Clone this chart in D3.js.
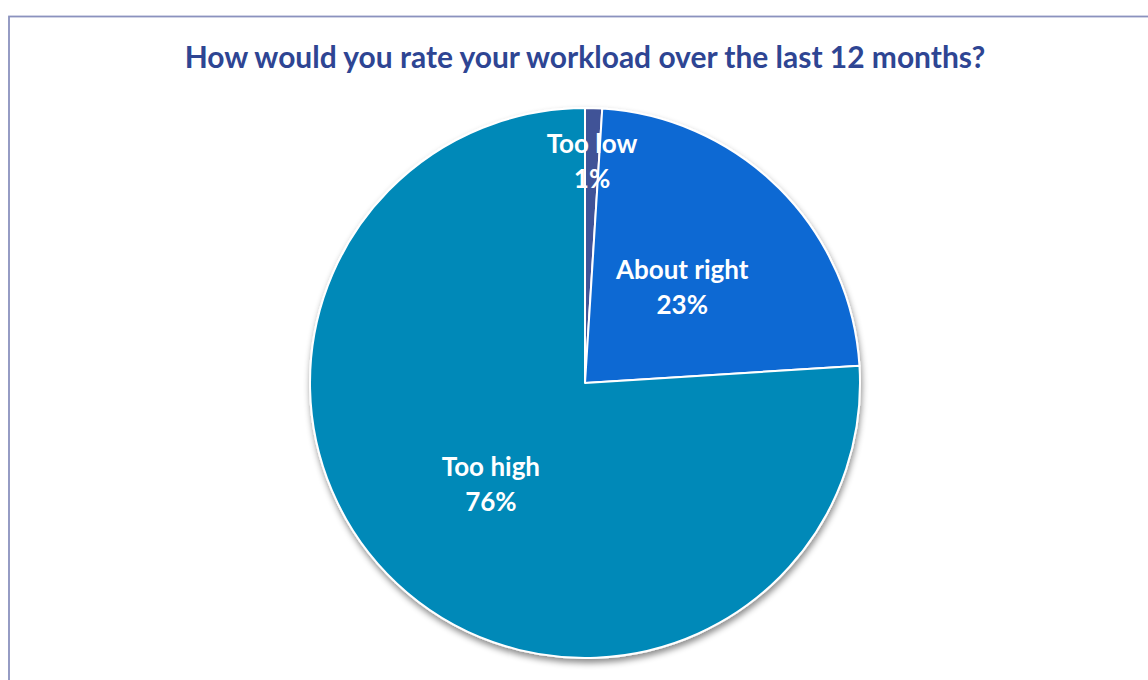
<!DOCTYPE html>
<html>
<head>
<meta charset="utf-8">
<script src="https://cdn.jsdelivr.net/npm/d3@7"></script>
<style>
  html, body { margin: 0; padding: 0; background: #ffffff; }
  svg { display: block; }
</style>
</head>
<body>
<svg id="chart" width="1148" height="680"></svg>
<script>
// Survey responses: workload rating over the last 12 months
const categories = ["Too low", "About right", "Too high"];
const shares = [1, 23, 76];
const sliceColors = ["#3F5297", "#0F69D3", "#0089B8"];
const chartTitle = "How would you rate your workload over the last 12 months?";

const width = 1148, height = 680;
const cx = 585, cy = 383, radius = 275;

const svg = d3.select("#chart");

// Soft shadow under the pie
const defs = svg.append("defs");
const f = defs.append("filter").attr("id", "pieShadow")
  .attr("x", "-10%").attr("y", "-10%").attr("width", "120%").attr("height", "125%");
f.append("feDropShadow").attr("dx", 1).attr("dy", 4).attr("stdDeviation", 3)
  .attr("flood-color", "#000").attr("flood-opacity", 0.45);

// Chart frame
svg.append("rect")
  .attr("x", 9).attr("y", 16.5)
  .attr("width", width + 20).attr("height", height + 20)
  .attr("fill", "#ffffff")
  .attr("stroke", "#8B92BE").attr("stroke-width", 1.8);

// Title
const title = svg.append("text")
  .attr("x", cx).attr("y", 68)
  .attr("text-anchor", "middle")
  .attr("font-family", "Lato, 'Open Sans', sans-serif")
  .attr("font-weight", "bold")
  .attr("font-size", 25)
  .attr("fill", "#2E4593")
  .text(chartTitle);
const tw = title.node().getComputedTextLength();
if (tw > 0) title.attr("font-size", 25 * 801 / tw);

const data = categories.map((c, i) => ({ category: c, value: shares[i], color: sliceColors[i] }));

const pie = d3.pie().sort(null).value(d => d.value);
const arcs = pie(data);
const arc = d3.arc().innerRadius(0).outerRadius(radius);

const g = svg.append("g").attr("transform", `translate(${cx},${cy})`);

g.append("g").attr("filter", "url(#pieShadow)")
  .selectAll("path")
  .data(arcs)
  .join("path")
  .attr("d", arc)
  .attr("fill", d => d.data.color)
  .attr("stroke", "#ffffff")
  .attr("stroke-width", 2)
  .attr("stroke-linejoin", "round");

// Labels: small slices get pushed toward the rim
const total = d3.sum(shares);
const labelArc = d => {
  const r = d.data.value / total < 0.05 ? radius * 0.81 : radius * 0.5;
  return d3.arc().innerRadius(r).outerRadius(r).centroid(d);
};

const labels = g.append("g")
  .attr("font-family", "Lato, 'Open Sans', sans-serif")
  .attr("font-weight", "bold")
  .attr("font-size", 26)
  .attr("fill", "#ffffff")
  .attr("text-anchor", "middle");

arcs.forEach(d => {
  const [x, y] = labelArc(d);
  labels.append("text").attr("x", x).attr("y", y - 7).text(d.data.category);
  labels.append("text").attr("x", x).attr("y", y + 28).text(d.data.value + "%");
});
</script>
</body>
</html>
